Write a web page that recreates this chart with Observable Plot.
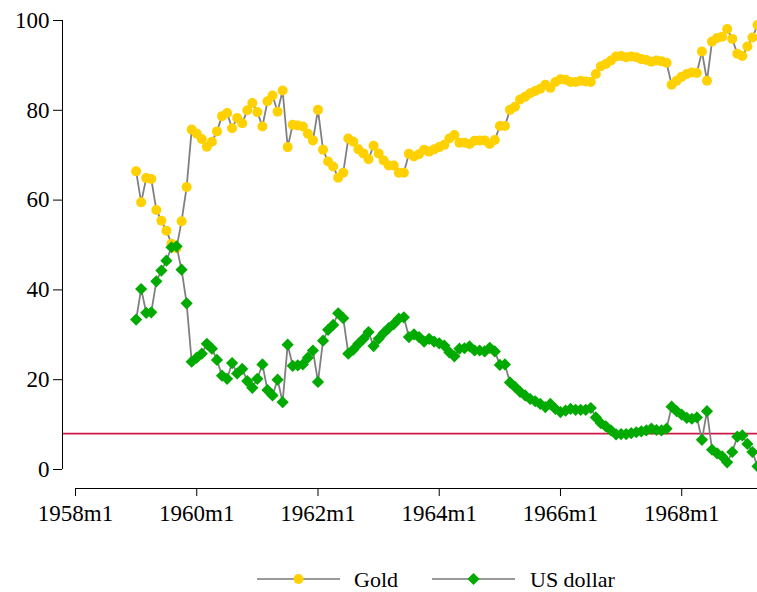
<!DOCTYPE html>
<html>
<head>
<meta charset="utf-8">
<script src="https://cdn.jsdelivr.net/npm/d3@7"></script>
<script src="https://cdn.jsdelivr.net/npm/@observablehq/plot@0.6"></script>
<style>
  html, body { margin: 0; padding: 0; background: #fff; }
  #chart { width: 757px; }
  svg text { font-family: "Liberation Serif", serif; }
</style>
</head>
<body>
<div id="chart"></div>
<script>
// Monthly shares (%), 1959m1 – 1969m4
const firstPeriod = "1959m1";

const goldShare = [
  66.4, 59.5, 64.9, 64.7, 57.8, 55.4, 53.2, 50.3, 49.3, 55.3, 62.9, 75.7,
  74.8, 73.6, 71.9, 73.0, 75.3, 78.7, 79.4, 76.0, 78.3, 77.1, 80.0, 81.6,
  79.6, 76.4, 82.0, 83.3, 79.7, 84.4, 71.8, 76.8, 76.6, 76.4, 74.8, 73.3,
  80.1, 71.2, 68.6, 67.5, 65.0, 66.1, 73.7, 73.0, 71.3, 70.4, 69.1, 72.1,
  70.4, 68.8, 67.7, 67.7, 66.1, 66.1, 70.3, 69.7, 70.2, 71.2, 70.8, 71.3,
  71.8, 72.3, 73.7, 74.5, 72.8, 72.8, 72.5, 73.2, 73.3, 73.3, 72.5, 73.4,
  76.5, 76.5, 80.1, 80.8, 82.4, 83.0, 83.8, 84.3, 84.8, 85.7, 85.0, 86.3,
  86.9, 86.8, 86.3, 86.3, 86.6, 86.4, 86.3, 88.1, 89.8, 90.3, 91.1, 92.0,
  92.1, 91.8, 92.0, 91.8, 91.4, 91.2, 90.8, 91.1, 90.9, 90.6, 85.7, 86.6,
  87.5, 88.1, 88.4, 88.3, 93.1, 86.6, 95.3, 96.1, 96.4, 98.1, 95.9, 92.6,
  92.1, 94.2, 96.2, 99.0
];

const dollarShare = [
  33.4, 40.2, 34.9, 35.0, 41.9, 44.3, 46.5, 49.5, 49.7, 44.5, 37.0, 24.0,
  24.9, 25.8, 28.0, 26.9, 24.4, 20.9, 20.2, 23.7, 21.4, 22.4, 19.7, 18.2,
  20.2, 23.4, 17.7, 16.5, 20.0, 15.0, 27.8, 23.1, 23.2, 23.4, 24.9, 26.5,
  19.5, 28.7, 31.1, 32.2, 34.8, 33.7, 25.8, 26.7, 28.0, 29.1, 30.6, 27.5,
  29.1, 30.4, 31.5, 32.4, 33.6, 33.9, 29.5, 30.1, 29.5, 28.5, 29.1, 28.5,
  28.1, 27.6, 26.1, 25.2, 26.9, 27.0, 27.4, 26.5, 26.5, 26.3, 27.1, 26.3,
  23.3, 23.4, 19.4, 18.4, 17.3, 16.5, 15.7, 15.2, 14.6, 13.9, 14.6, 13.5,
  12.8, 13.1, 13.5, 13.3, 13.3, 13.3, 13.7, 11.6, 10.3, 9.6, 8.7, 7.8,
  7.9, 7.9, 8.1, 8.3, 8.5, 8.7, 9.1, 8.8, 8.7, 9.1, 14.0, 13.0,
  12.2, 11.5, 11.3, 11.6, 6.6, 13.0, 4.4, 3.6, 2.9, 1.6, 3.9, 7.3,
  7.6, 5.7, 3.9, 0.7
];

const referenceLevel = 8;

const seriesNames = ["Gold", "US dollar"];
const xTickLabels = ["1958m1", "1960m1", "1962m1", "1964m1", "1966m1", "1968m1"];
const yTickValues = [0, 20, 40, 60, 80, 100];
const xStart = "1958m1";
const xEnd = "1969m4";

// Stata-style "YYYYmM" period labels <-> month counts since 1958m1
const baseYear = 1958;
function periodIndex(label) {
  const [y, m] = label.split("m").map(Number);
  return (y - baseYear) * 12 + (m - 1);
}
function periodLabel(i) {
  return `${baseYear + Math.floor(i / 12)}m${(i % 12) + 1}`;
}

const t0 = periodIndex(firstPeriod);
const goldRows = goldShare.map((v, i) => ({t: t0 + i, v}));
const dollarRows = dollarShare.map((v, i) => ({t: t0 + i, v}));

const goldColor = "#ffd100";
const dollarColor = "#00aa00";
const lineColor = "#808080";
const refColor = "#cc1a4a";
const fontFamily = "'Liberation Serif', serif";
const goldR = 5;
const dollarR = 5.5;

const chart = Plot.plot({
  width: 757,
  height: 550,
  marginLeft: 75,
  marginRight: 0,
  marginTop: 20,
  marginBottom: 81,
  style: {fontFamily, fontSize: "23px", color: "#000", background: "#fff", overflow: "visible"},
  x: {domain: [periodIndex(xStart), periodIndex(xEnd)]},
  y: {domain: [0, 100]},
  marks: [
    Plot.ruleY([referenceLevel], {stroke: refColor, strokeWidth: 1.6, insetLeft: -13}),
    Plot.line(goldRows, {x: "t", y: "v", stroke: lineColor, strokeWidth: 1.8}),
    Plot.dot(goldRows, {x: "t", y: "v", r: goldR, fill: goldColor, stroke: null}),
    Plot.line(dollarRows, {x: "t", y: "v", stroke: lineColor, strokeWidth: 1.8}),
    Plot.dot(dollarRows, {x: "t", y: "v", r: dollarR, symbol: "diamond2", fill: dollarColor, stroke: null}),
    // left axis, set off from the plot region
    Plot.ruleX([periodIndex(xStart)], {y1: 0, y2: 100, dx: -13, stroke: "#000"}),
    Plot.axisY({ticks: yTickValues, label: null, tickSize: 9, tickPadding: 4, dx: -13, fontSize: 23, stroke: "#000"}),
    // bottom axis, set off below the plot region
    Plot.ruleY([0], {x1: periodIndex(xStart), x2: periodIndex(xEnd), dy: 19, stroke: "#000"}),
    Plot.axisX({ticks: xTickLabels.map(periodIndex), label: null, tickFormat: periodLabel, tickSize: 8, tickPadding: 8, dy: 19, fontSize: 23, stroke: "#000"})
  ]
});
document.getElementById("chart").appendChild(chart);

// Legend below the chart
const legend = d3.select("#chart").append("svg")
  .attr("width", 757).attr("height", 42)
  .style("display", "block")
  .style("font-family", fontFamily).style("font-size", "22px");

const items = [
  {name: seriesNames[0], x: 257, color: goldColor, symbol: d3.symbolCircle, size: Math.PI * goldR * goldR, textX: 354},
  {name: seriesNames[1], x: 432, color: dollarColor, symbol: d3.symbolDiamond2, size: Math.PI * dollarR * dollarR, textX: 530}
];
const ly = 29;
for (const it of items) {
  legend.append("line")
    .attr("x1", it.x).attr("x2", it.x + 83).attr("y1", ly).attr("y2", ly)
    .attr("stroke", "#999").attr("stroke-width", 1.8);
  legend.append("path")
    .attr("transform", `translate(${it.x + 41.5},${ly})`)
    .attr("d", d3.symbol(it.symbol, it.size)())
    .attr("fill", it.color);
  legend.append("text")
    .attr("x", it.textX).attr("y", ly + 8)
    .text(it.name);
}
</script>
</body>
</html>
